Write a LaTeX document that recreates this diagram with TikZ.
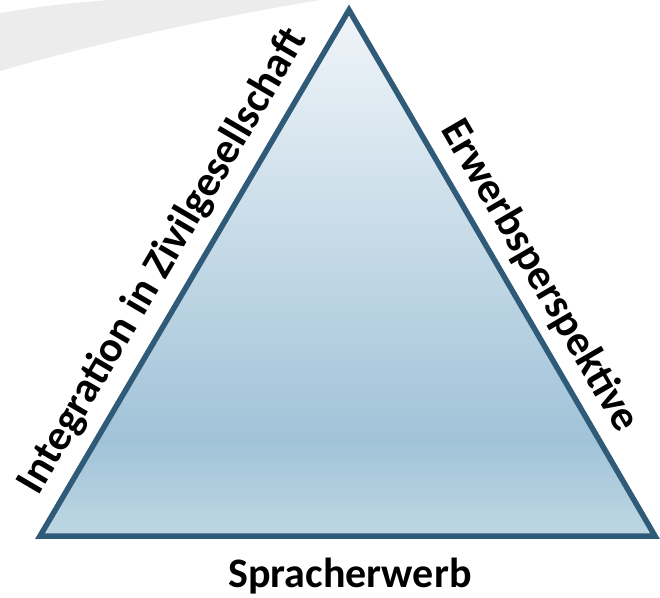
\documentclass[tikz,border=0pt]{standalone}
\usepackage{fontspec}
\setmainfont{Carlito}
\definecolor{edgeblue}{HTML}{2F5B78}
\definecolor{topfill}{HTML}{F0F5F9}
\definecolor{midfill}{HTML}{A1C3D8}
\definecolor{lowfill}{HTML}{BFD7E3}
\definecolor{bandgray}{HTML}{ECECEC}
\pgfdeclareverticalshading{trishade}{100bp}{color(0bp)=(lowfill); color(25bp)=(lowfill); color(34bp)=(midfill); color(75bp)=(topfill); color(100bp)=(topfill)}
\tikzset{
  sidelabel/.style={font=\bfseries\fontsize{43}{48}\selectfont, inner sep=0pt, sloped},
}
\begin{document}
\begin{tikzpicture}[x=1pt,y=-1pt]
\useasboundingbox (0,0) rectangle (660,597);
% light band in the corner
\fill[bandgray] (0,13) .. controls (40,6) and (80,2) .. (110,0) -- (320,0)
  .. controls (200,20) and (90,45) .. (0,71) -- cycle;
% corners of the triangle
\coordinate (top) at (349,10);
\coordinate (left) at (40,536);
\coordinate (right) at (655,536);
\draw[edgeblue, line width=5.5pt, shading=trishade] (left) -- (top) -- (right) -- cycle;
% labels along the sides
\path (left) -- (top) node[sidelabel, pos=0.49, above=14pt] (civil) {Integration in Zivilgesellschaft};
\path (top) -- (right) node[sidelabel, pos=0.535, above=12pt] (job) {Erwerbsperspektive};
\node[font=\bfseries\fontsize{42}{48}\selectfont, anchor=base] (lang) at (350,587) {Spracherwerb};
\end{tikzpicture}
\end{document}
